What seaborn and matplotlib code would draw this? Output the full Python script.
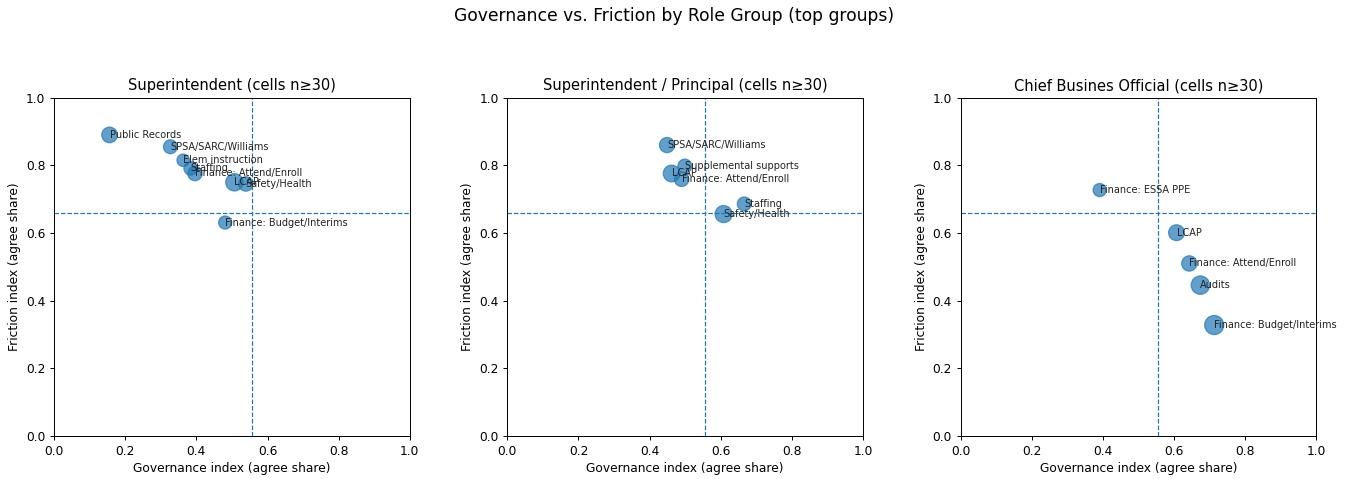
import matplotlib
matplotlib.use("Agg")
import matplotlib.pyplot as plt
import numpy as np
import pandas as pd
import seaborn as sns

# Role groups shown, one panel each
roles = ["Superintendent", "Superintendent / Principal", "Chief Busines Official"]

# Superintendent
supt_topics = ["Public Records", "SPSA/SARC/Williams", "Elem instruction", "Staffing",
               "Finance: Attend/Enroll", "LCAP", "Safety/Health", "Finance: Budget/Interims"]
supt_gov = [0.156, 0.327, 0.363, 0.384, 0.396, 0.507, 0.539, 0.481]
supt_fric = [0.890, 0.855, 0.815, 0.791, 0.776, 0.750, 0.745, 0.631]
supt_n = [47, 37, 30, 35, 40, 58, 40, 33]

# Superintendent / Principal
sp_topics = ["SPSA/SARC/Williams", "Supplemental supports", "LCAP",
             "Finance: Attend/Enroll", "Staffing", "Safety/Health"]
sp_gov = [0.449, 0.499, 0.462, 0.490, 0.666, 0.608]
sp_fric = [0.860, 0.798, 0.776, 0.759, 0.686, 0.656]
sp_n = [44, 37, 54, 40, 37, 56]

# Chief Business Official
cbo_topics = ["Finance: ESSA PPE", "LCAP", "Finance: Attend/Enroll", "Audits",
              "Finance: Budget/Interims"]
cbo_gov = [0.391, 0.607, 0.643, 0.674, 0.713]
cbo_fric = [0.727, 0.601, 0.510, 0.446, 0.328]
cbo_n = [33, 48, 45, 65, 70]

# Overall reference levels (dashed guides)
gov_ref = 0.555
fric_ref = 0.660

panels = [
    (supt_topics, supt_gov, supt_fric, supt_n),
    (sp_topics, sp_gov, sp_fric, sp_n),
    (cbo_topics, cbo_gov, cbo_fric, cbo_n),
]

DPI = 88
fig, axes = plt.subplots(1, 3, figsize=(1348 / DPI, 479 / DPI), dpi=DPI)
fig.subplots_adjust(left=0.0401, right=0.9765, top=0.796, bottom=0.0898, wspace=0.274)

for ax, role, (topics, gov, fric, n) in zip(axes, roles, panels):
    df = pd.DataFrame({"topic": topics, "gov": gov, "fric": fric, "n": n})
    sns.scatterplot(data=df, x="gov", y="fric", size="n", sizes=(0, 350),
                    size_norm=(0, 100), color="C0", edgecolor="C0",
                    linewidth=1.0, alpha=0.7, legend=False, ax=ax)
    for _, r in df.iterrows():
        ax.text(r["gov"], r["fric"], r["topic"], fontsize=8, ha="left", va="center",
                color="#222222")
    ax.axvline(gov_ref, linestyle="--", linewidth=1)
    ax.axhline(fric_ref, linestyle="--", linewidth=1)
    ax.set_xlim(0, 1)
    ax.set_ylim(0, 1)
    ax.set_xlabel("Governance index (agree share)")
    ax.set_ylabel("Friction index (agree share)")
    ax.set_title(f"{role} (cells n≥30)")

fig.suptitle("Governance vs. Friction by Role Group (top groups)", fontsize=14, y=0.967, va="center")
fig.savefig("out.png", dpi=DPI)
